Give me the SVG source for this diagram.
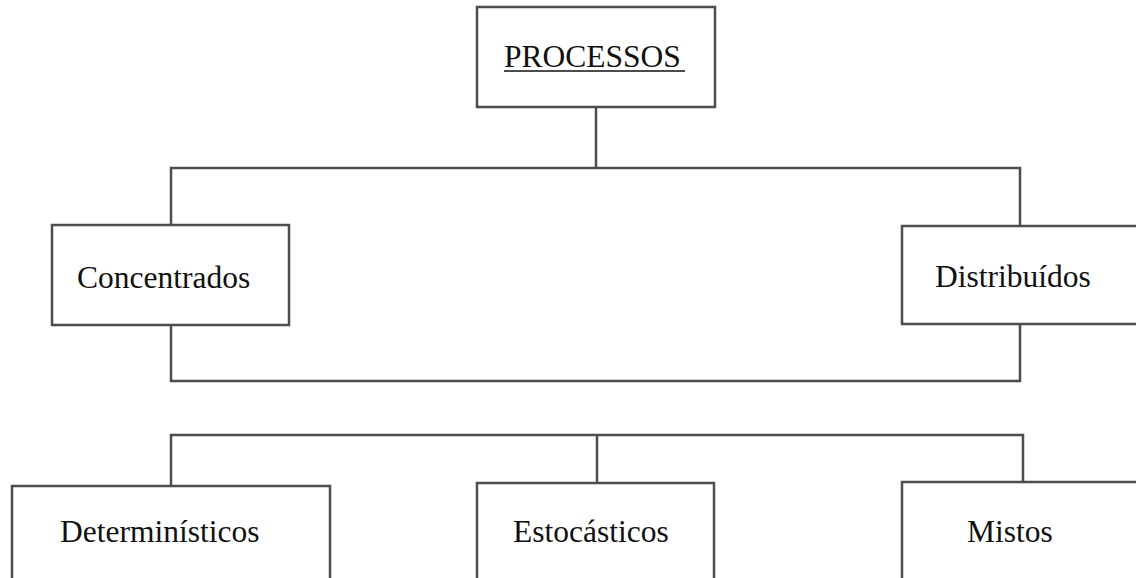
<svg xmlns="http://www.w3.org/2000/svg" width="1136" height="578" viewBox="0 0 1136 578">
<style>
.box{fill:#fff;stroke:#4d4d4d;stroke-width:2.5}
.ln{fill:none;stroke:#4d4d4d;stroke-width:2.5}
.t{font-family:"Liberation Serif","Times New Roman",serif;font-size:31.5px;fill:#111}
</style>
<rect width="1136" height="578" fill="#fff"/>
<g id="connectors">
<line class="ln" x1="596" y1="107" x2="596" y2="168"/>
<polyline class="ln" points="171,225 171,168 1020,168 1020,226"/>
<polyline class="ln" points="171,325 171,381 1020,381 1020,324"/>
<polyline class="ln" points="171,486 171,435 1023,435 1023,482"/>
<line class="ln" x1="597" y1="435" x2="597" y2="482"/>
</g>
<g id="processos">
<rect class="box" x="477" y="7" width="238" height="100"/>
<text class="t" x="504" y="67">PROCESSOS</text>
<line x1="504" y1="71" x2="685" y2="71" stroke="#111" stroke-width="1.5"/>
</g>
<g id="concentrados">
<rect class="box" x="52" y="225" width="237" height="100"/>
<text class="t" x="77" y="288">Concentrados</text>
</g>
<g id="distribuidos">
<rect class="box" x="902" y="226" width="250" height="98"/>
<text class="t" x="935" y="287">Distribuídos</text>
</g>
<g id="deterministicos">
<rect class="box" x="12" y="486" width="318" height="110"/>
<text class="t" x="60" y="542">Determinísticos</text>
</g>
<g id="estocasticos">
<rect class="box" x="477" y="483" width="237" height="110"/>
<text class="t" x="513" y="542">Estocásticos</text>
</g>
<g id="mistos">
<rect class="box" x="902" y="482" width="250" height="110"/>
<text class="t" x="967" y="542">Mistos</text>
</g>
</svg>
